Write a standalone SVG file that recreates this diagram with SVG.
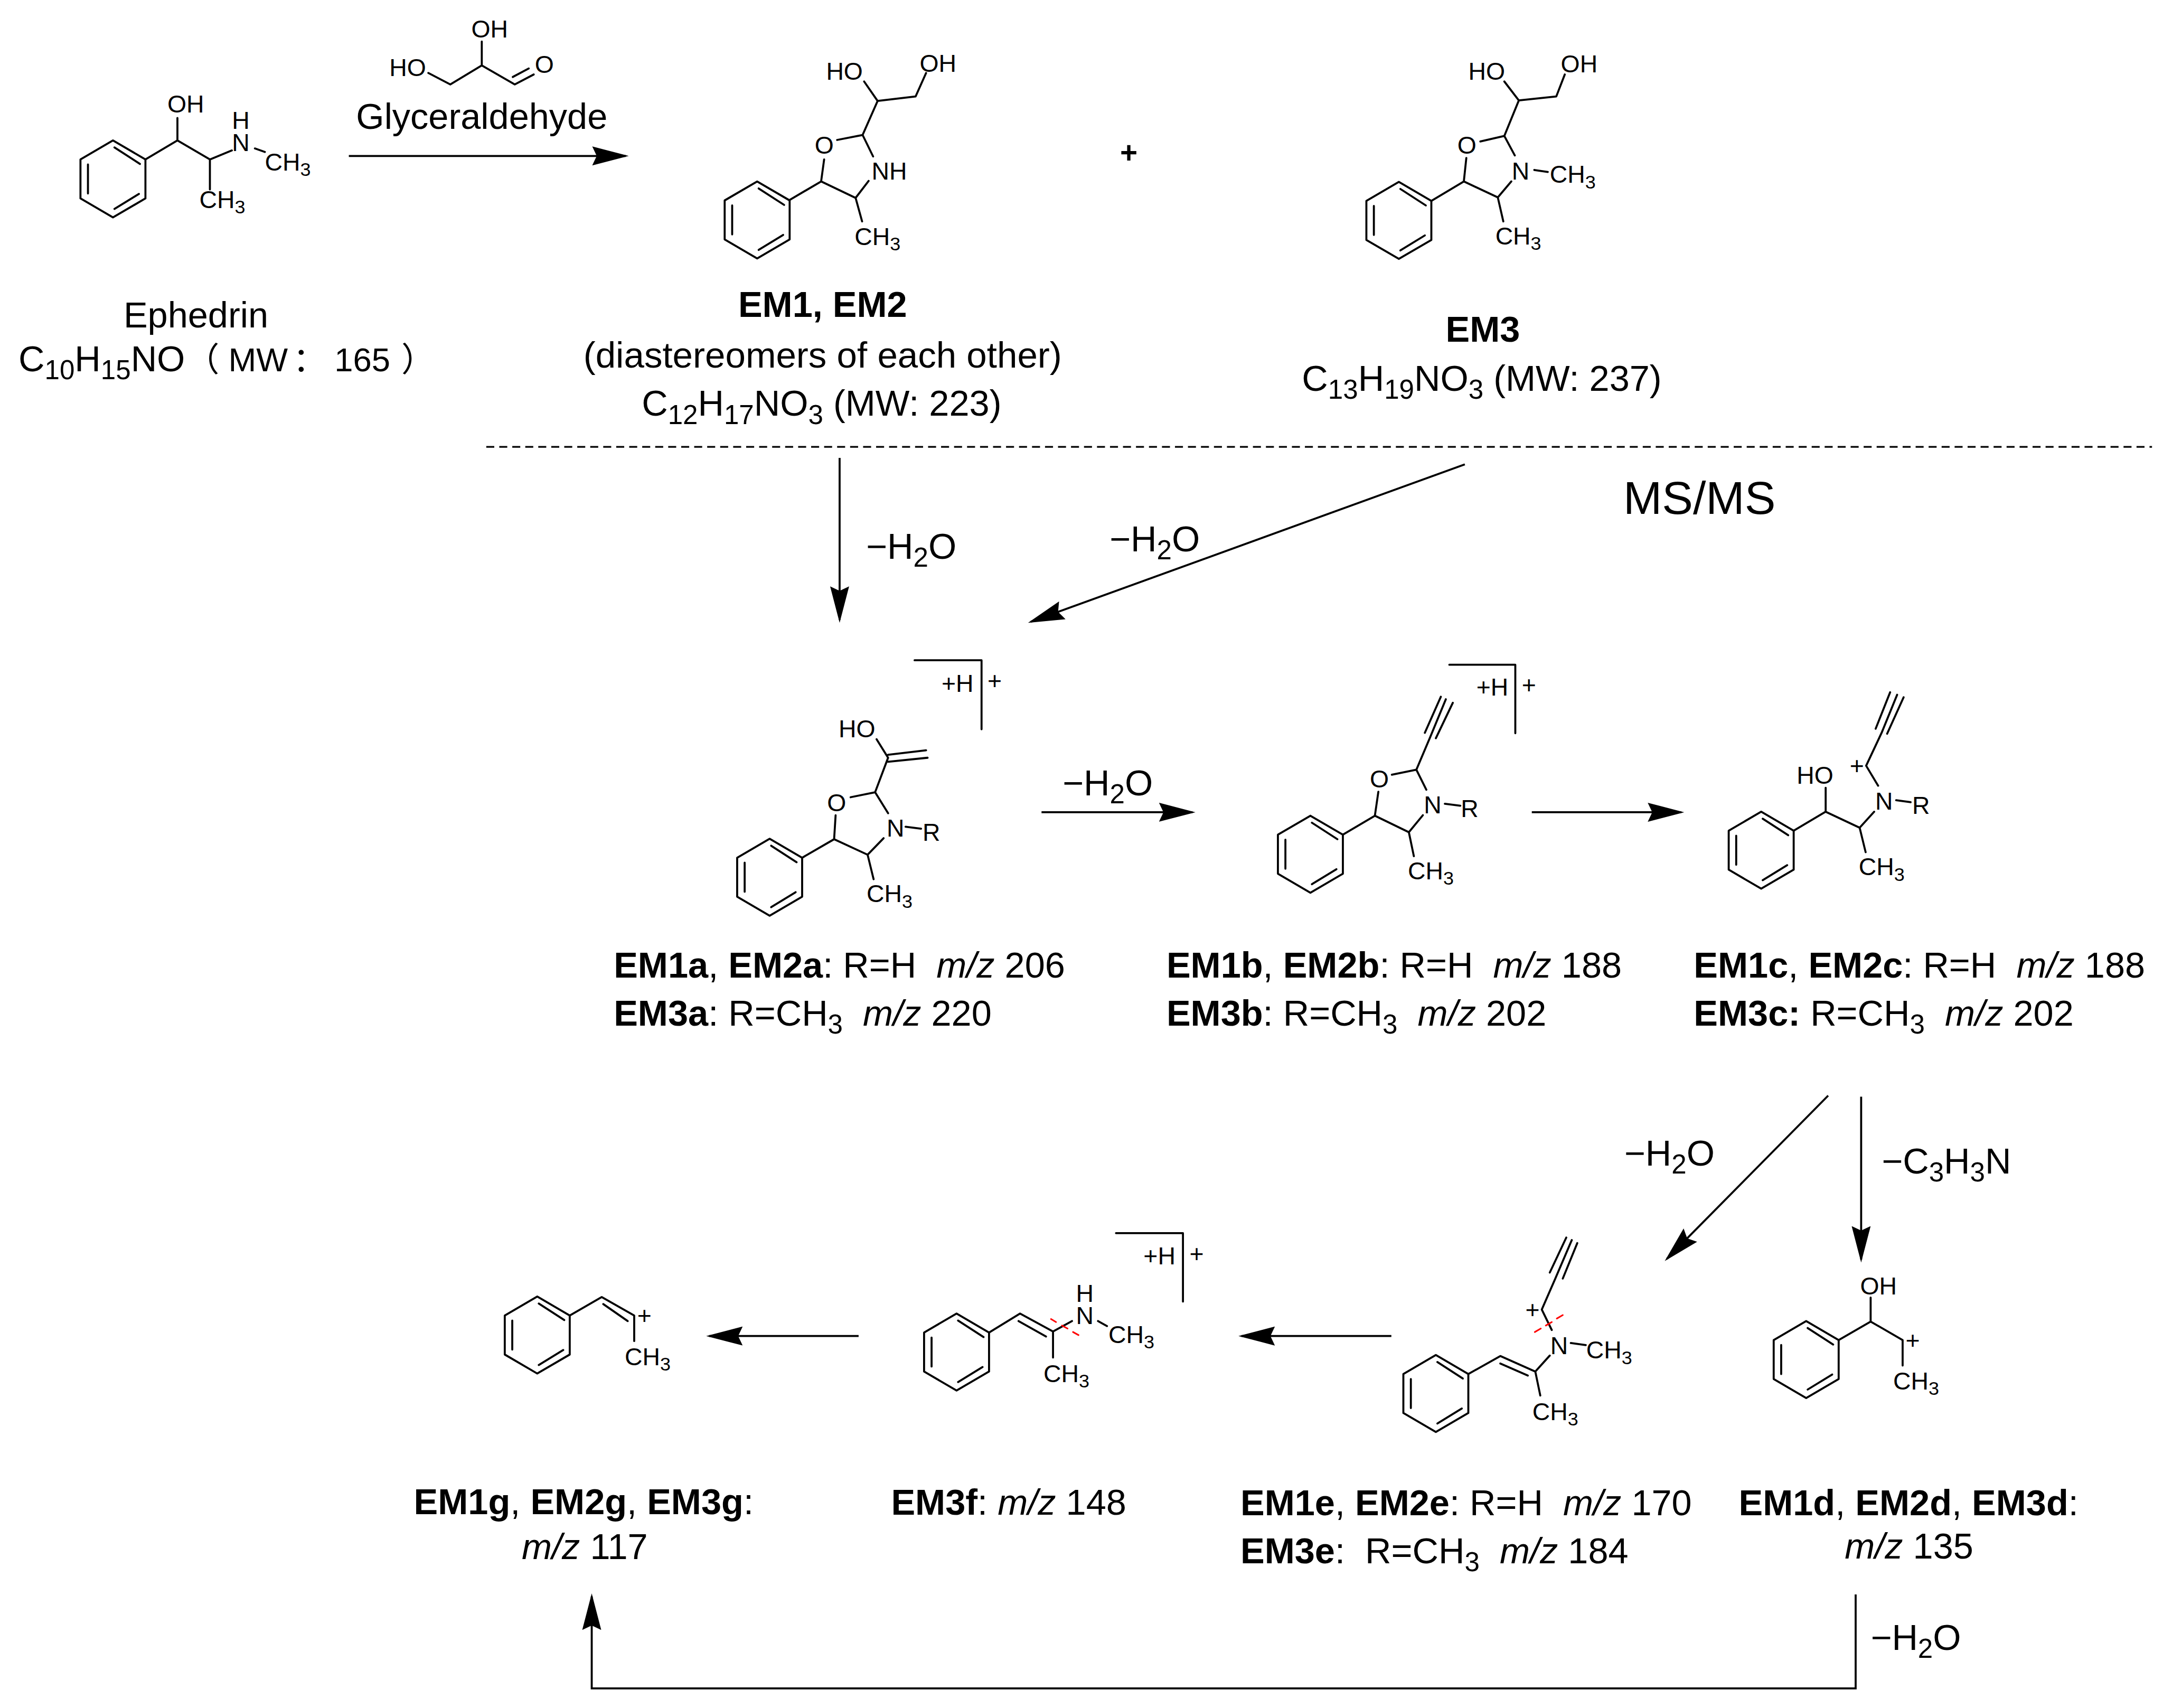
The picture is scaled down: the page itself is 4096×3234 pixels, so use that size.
<svg xmlns="http://www.w3.org/2000/svg" width="4096" height="3234" viewBox="0 0 4096 3234">
<style>
text{font-family:"Liberation Sans","Noto Sans CJK SC",sans-serif;fill:#000;white-space:pre}
.l{font-size:72.4px}
.a{font-size:49px}
.b{font-weight:bold}
.i{font-style:italic}
.sl{font-size:54px}
.sa{font-size:38px}
.w{font-size:67px}
.k{fill:none;stroke:#000;stroke-width:4;stroke-linecap:round;stroke-linejoin:round}
.c{fill:none;stroke:#000;stroke-width:4;stroke-linejoin:miter}
.r{fill:none;stroke:#f00;stroke-width:3.2;stroke-linecap:round}
</style>
<defs>
<marker id="ah" markerUnits="userSpaceOnUse" markerWidth="80" markerHeight="44" refX="67" refY="22" orient="auto"><path d="M0 3L73 22L0 41L9 22Z" fill="#000"/></marker>
<path id="ph" class="k" d="M0-77L65-39V39L0 77L-65 39V-39ZM3-63L54-30M52 30L3 60M-50-29V29"/>
</defs>
<rect width="4096" height="3234" fill="#fff"/>
<g transform="scale(0.9464)">
<g id="connectors">
<path class="c" marker-end="url(#ah)" d="M698 312H1252"/>
<path class="c" marker-end="url(#ah)" d="M1680 916V1240"/>
<path class="c" marker-end="url(#ah)" d="M2931 929L2062.6 1244"/>
<path class="c" marker-end="url(#ah)" d="M2084 1625H2386"/>
<path class="c" marker-end="url(#ah)" d="M3065 1625H3364"/>
<path class="c" marker-end="url(#ah)" d="M3658 2192L3335.2 2518.7"/>
<path class="c" marker-end="url(#ah)" d="M3724 2194V2520"/>
<path class="c" marker-end="url(#ah)" d="M2784 2673H2484"/>
<path class="c" marker-end="url(#ah)" d="M1718 2673H1419"/>
<path class="c" marker-end="url(#ah)" d="M3713 3190V3378H1184V3194"/>
<path id="divider" d="M973 894H4306" fill="none" stroke="#000" stroke-width="3.5" stroke-dasharray="16 10"/>
</g>
<g id="ephedrin">
<use href="#ph" x="226" y="358"/>
<path class="k" d="M291 319L355 281L420 319L464 301M510 297L530 304M355 281V236M420 319V379"/>
<text class="a" x="335" y="225">OH</text>
<text class="a" x="464" y="258">H<tspan x="464" y="302">N</tspan></text>
<text class="a" x="530" y="341">CH<tspan class="sa" dy="11">3</tspan></text>
<text class="a" x="399" y="416">CH<tspan class="sa" dy="11">3</tspan></text>
<text class="l" x="392" y="655" text-anchor="middle">Ephedrin</text>
<text class="l" x="37" y="743">C<tspan class="sl" dy="16">10</tspan><tspan dy="-16">H</tspan><tspan class="sl" dy="16">15</tspan><tspan dy="-16">NO</tspan><tspan x="372" class="w">（</tspan><tspan x="457" class="w">MW</tspan><tspan x="586" class="w">：</tspan><tspan x="669" class="w">165</tspan><tspan x="803" class="w">）</tspan></text>
</g>
<g id="glyceraldehyde">
<path class="k" d="M857 146L901 169L964 131L1030 169L1068 149M1026 154L1058 137M964 131V83"/>
<text class="a" x="779" y="152">HO</text>
<text class="a" x="943" y="75">OH</text>
<text class="a" x="1070" y="146">O</text>
<text class="l" x="964" y="258" text-anchor="middle">Glyceraldehyde</text>
</g>
<g id="em1-em2">
<use href="#ph" x="1515" y="440"/>
<path class="k" d="M1580 400L1643 363L1712 396L1738 362M1643 363L1649 319M1675 280L1726 270L1747 313M1712 396L1725 443M1726 270L1756 202L1729 163M1756 202L1832 193L1853 146"/>
<text class="a" x="1630" y="307">O</text>
<text class="a" x="1744" y="359">NH</text>
<text class="a" x="1710" y="490">CH<tspan class="sa" dy="11">3</tspan></text>
<text class="a" x="1653" y="160">HO</text>
<text class="a" x="1840" y="144">OH</text>
<text class="l b" x="1646" y="634" text-anchor="middle">EM1, EM2</text>
<text class="l" x="1646" y="735" text-anchor="middle" style="font-size:73px">(diastereomers of each other)</text>
<text class="l" x="1284" y="832">C<tspan class="sl" dy="16">12</tspan><tspan dy="-16">H</tspan><tspan class="sl" dy="16">17</tspan><tspan dy="-16">NO</tspan><tspan class="sl" dy="16">3</tspan><tspan dy="-16"> (MW: 223)</tspan></text>
</g>
<text id="plus" class="b" x="2241" y="327" font-size="60">+</text>
<g id="em3">
<use href="#ph" x="2799" y="441"/>
<path class="k" d="M2864 402L2929 363L2997 395L3024 363M2929 363L2934 316M2962 283L3010 272L3031 311M3070 340L3097 344M2997 395L3008 443M3010 272L3039 201L3010 163M3039 201L3114 193L3131 149"/>
<text class="a" x="2916" y="307">O</text>
<text class="a" x="3025" y="359">N</text>
<text class="a" x="3101" y="366">CH<tspan class="sa" dy="11">3</tspan></text>
<text class="a" x="2992" y="489">CH<tspan class="sa" dy="11">3</tspan></text>
<text class="a" x="2938" y="160">HO</text>
<text class="a" x="3123" y="145">OH</text>
<text class="l b" x="2967" y="684" text-anchor="middle">EM3</text>
<text class="l" x="2605" y="782">C<tspan class="sl" dy="16">13</tspan><tspan dy="-16">H</tspan><tspan class="sl" dy="16">19</tspan><tspan dy="-16">NO</tspan><tspan class="sl" dy="16">3</tspan><tspan dy="-16"> (MW: 237)</tspan></text>
</g>
<text id="msms" x="3248" y="1028" font-size="93">MS/MS</text>
<g id="losses">
<text class="l" x="1733" y="1118">−H<tspan class="sl" dy="16">2</tspan><tspan dy="-16">O</tspan></text>
<text class="l" x="2220" y="1103">−H<tspan class="sl" dy="16">2</tspan><tspan dy="-16">O</tspan></text>
<text class="l" x="2126" y="1591">−H<tspan class="sl" dy="16">2</tspan><tspan dy="-16">O</tspan></text>
<text class="l" x="3250" y="2332">−H<tspan class="sl" dy="16">2</tspan><tspan dy="-16">O</tspan></text>
<text class="l" x="3765" y="2348">−C<tspan class="sl" dy="16">3</tspan><tspan dy="-16">H</tspan><tspan class="sl" dy="16">3</tspan><tspan dy="-16">N</tspan></text>
<text class="l" x="3743" y="3301">−H<tspan class="sl" dy="16">2</tspan><tspan dy="-16">O</tspan></text>
</g>
<g id="em1a">
<use href="#ph" x="1540" y="1755"/>
<path class="k" d="M1605 1716L1669 1679L1736 1710L1768 1677M1669 1679L1672 1631M1702 1595L1751 1585L1777 1627M1812 1654L1843 1658M1736 1710L1748 1759M1751 1585L1777 1516L1754 1479M1777 1510L1853 1501M1777 1524L1856 1516"/>
<path class="k" d="M1830 1321H1964V1459"/>
<text class="a" x="1678" y="1475">HO</text>
<text class="a" x="1655" y="1623">O</text>
<text class="a" x="1774" y="1674">N</text>
<text class="a" x="1846" y="1682">R</text>
<text class="a" x="1734" y="1805">CH<tspan class="sa" dy="11">3</tspan></text>
<text class="a" x="1884" y="1384">+H</text>
<text class="a" x="1976" y="1379">+</text>
<text class="l" x="1228" y="1956"><tspan class="b">EM1a</tspan>, <tspan class="b">EM2a</tspan>: R=H  <tspan class="i">m/z</tspan> 206</text>
<text class="l" x="1228" y="2052"><tspan class="b">EM3a</tspan>: R=CH<tspan class="sl" dy="16">3</tspan><tspan dy="-16">  </tspan><tspan class="i">m/z</tspan> 220</text>
</g>
<g id="em1b">
<use href="#ph" x="2622" y="1709"/>
<path class="k" d="M2687 1670L2751 1632L2819 1665L2847 1631M2751 1632L2758 1584M2785 1550L2834 1540L2854 1580M2891 1608L2922 1612M2819 1665L2829 1713M2834 1540L2862 1474L2893 1399M2851 1466L2883 1394M2873 1477L2907 1406"/>
<path class="k" d="M2900 1330H3032V1467"/>
<text class="a" x="2741" y="1575">O</text>
<text class="a" x="2849" y="1627">N</text>
<text class="a" x="2923" y="1635">R</text>
<text class="a" x="2817" y="1759">CH<tspan class="sa" dy="11">3</tspan></text>
<text class="a" x="2954" y="1392">+H</text>
<text class="a" x="3045" y="1387">+</text>
<text class="l" x="2334" y="1956"><tspan class="b">EM1b</tspan>, <tspan class="b">EM2b</tspan>: R=H  <tspan class="i">m/z</tspan> 188</text>
<text class="l" x="2334" y="2052"><tspan class="b">EM3b</tspan>: R=CH<tspan class="sl" dy="16">3</tspan><tspan dy="-16">  </tspan><tspan class="i">m/z</tspan> 202</text>
</g>
<g id="em1c">
<use href="#ph" x="3524" y="1701"/>
<path class="k" d="M3589 1662L3653 1624L3721 1656L3750 1624M3653 1624V1576M3794 1601L3823 1605M3758 1572L3734 1532L3765 1466L3796 1390M3753 1458L3782 1385M3776 1468L3809 1395M3721 1656L3733 1705"/>
<text class="a" x="3595" y="1568">HO</text>
<text class="a" x="3752" y="1620">N</text>
<text class="a" x="3826" y="1628">R</text>
<text class="a" x="3701" y="1549">+</text>
<text class="a" x="3719" y="1751">CH<tspan class="sa" dy="11">3</tspan></text>
<text class="l" x="3389" y="1956"><tspan class="b">EM1c</tspan>, <tspan class="b">EM2c</tspan>: R=H  <tspan class="i">m/z</tspan> 188</text>
<text class="l" x="3389" y="2052"><tspan class="b">EM3c:</tspan> R=CH<tspan class="sl" dy="16">3</tspan><tspan dy="-16">  </tspan><tspan class="i">m/z</tspan> 202</text>
</g>
<g id="em1e">
<use href="#ph" x="2873" y="2788"/>
<path class="k" d="M2938 2749L3002 2713L3072 2744L3101 2712M3002 2728L3057 2752M3072 2744L3082 2792M3143 2687L3173 2691M3105 2661L3085 2620L3112 2558L3145 2481M3101 2546L3134 2476M3127 2558L3156 2487"/>
<path class="r" d="M3071 2665L3083 2658M3093 2652L3105 2645M3115 2638L3127 2631"/>
<text class="a" x="3102" y="2709">N</text>
<text class="a" x="3174" y="2718">CH<tspan class="sa" dy="11">3</tspan></text>
<text class="a" x="3066" y="2841">CH<tspan class="sa" dy="11">3</tspan></text>
<text class="a" x="3052" y="2637">+</text>
<text class="l" x="2482" y="3031"><tspan class="b">EM1e</tspan>, <tspan class="b">EM2e</tspan>: R=H  <tspan class="i">m/z</tspan> 170</text>
<text class="l" x="2482" y="3128"><tspan class="b">EM3e</tspan>:  R=CH<tspan class="sl" dy="16">3</tspan><tspan dy="-16">  </tspan><tspan class="i">m/z</tspan> 184</text>
</g>
<g id="em1d">
<use href="#ph" x="3614" y="2720"/>
<path class="k" d="M3679 2681L3743 2644L3807 2681V2732M3743 2644V2596"/>
<text class="a" x="3722" y="2590">OH</text>
<text class="a" x="3813" y="2699">+</text>
<text class="a" x="3788" y="2780">CH<tspan class="sa" dy="11">3</tspan></text>
<text class="l" x="3479" y="3031"><tspan class="b">EM1d</tspan>, <tspan class="b">EM2d</tspan>, <tspan class="b">EM3d</tspan>:</text>
<text class="l" x="3691" y="3118"><tspan class="i">m/z</tspan> 135</text>
</g>
<g id="em3f">
<use href="#ph" x="1914" y="2705"/>
<path class="k" d="M1979 2666L2041 2628L2107 2664L2145 2643M2038 2643L2093 2674M2107 2664V2716M2197 2643L2215 2653"/>
<path class="k" d="M2233 2467H2367V2604"/>
<path class="r" d="M2103 2639L2113 2645M2125 2652L2136 2658M2147 2665L2158 2671"/>
<text class="a" x="2153" y="2605">H<tspan x="2153" y="2649">N</tspan></text>
<text class="a" x="2218" y="2687">CH<tspan class="sa" dy="11">3</tspan></text>
<text class="a" x="2088" y="2765">CH<tspan class="sa" dy="11">3</tspan></text>
<text class="a" x="2288" y="2530">+H</text>
<text class="a" x="2380" y="2525">+</text>
<text class="l" x="1783" y="3030"><tspan class="b">EM3f</tspan>: <tspan class="i">m/z</tspan> 148</text>
</g>
<g id="em1g">
<use href="#ph" x="1075" y="2671"/>
<path class="k" d="M1140 2632L1204 2595L1269 2632V2683M1207 2609L1256 2643"/>
<text class="a" x="1275" y="2649">+</text>
<text class="a" x="1250" y="2731">CH<tspan class="sa" dy="11">3</tspan></text>
<text class="l" x="828" y="3029"><tspan class="b">EM1g</tspan>, <tspan class="b">EM2g</tspan>, <tspan class="b">EM3g</tspan>:</text>
<text class="l" x="1044" y="3119"><tspan class="i">m/z</tspan> 117</text>
</g>
</g>
</svg>
